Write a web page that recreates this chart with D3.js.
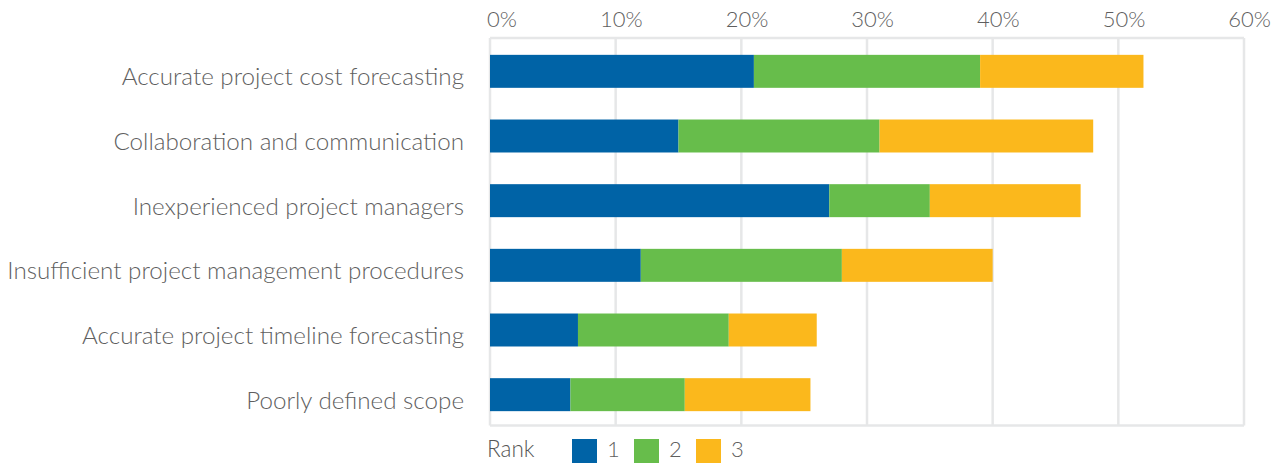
<!DOCTYPE html>
<html>
<head>
<meta charset="utf-8">
<script src="https://cdn.jsdelivr.net/npm/d3@7/dist/d3.min.js"></script>
<style>
  html, body { margin: 0; padding: 0; background: #fff; }
  svg { display: block; }
  text { font-family: Lato, "Open Sans", sans-serif; font-weight: 300; fill: #5f5f5f; }
</style>
</head>
<body>
<svg id="chart" width="1282" height="466"></svg>
<script>
// Share of respondents ranking each challenge 1st, 2nd or 3rd (%)
const categories = [
  "Accurate project cost forecasting",
  "Collaboration and communication",
  "Inexperienced project managers",
  "Insufficient project management procedures",
  "Accurate project timeline forecasting",
  "Poorly defined scope"
];
const rank1 = [21, 15, 27, 12, 7, 6.4];
const rank2 = [18, 16, 8, 16, 12, 9.1];
const rank3 = [13, 17, 12, 12, 7, 10];
const rankNames = ["1", "2", "3"];
const rankColors = ["#0063a6", "#67bd4b", "#fbb81c"];
const tickValues = [0, 10, 20, 30, 40, 50, 60];

const svg = d3.select("#chart");
const plotLeft = 490, plotRight = 1244, plotTop = 38, plotBottom = 425.5;

const x = d3.scaleLinear().domain([0, 60]).range([plotLeft, plotRight]);
const y = d3.scaleBand().domain(categories).range([39, 427]).paddingInner(0.49).paddingOuter(0.245);

// grid lines and frame
const grid = svg.append("g");
grid.selectAll("line.v").data(tickValues).join("line")
  .attr("x1", d => x(d)).attr("x2", d => x(d))
  .attr("y1", plotTop).attr("y2", plotBottom)
  .attr("stroke", "#e6e7e8").attr("stroke-width", 2.5);
grid.selectAll("line.h").data([plotTop, plotBottom]).join("line")
  .attr("x1", plotLeft).attr("x2", plotRight)
  .attr("y1", d => d).attr("y2", d => d)
  .attr("stroke", "#e6e7e8").attr("stroke-width", 2.5);

// top axis tick labels
svg.append("g").selectAll("text").data(tickValues).join("text")
  .attr("x", d => x(d) + 27).attr("y", 26.5)
  .attr("text-anchor", "end")
  .style("font-size", "22px")
  .text(d => d + "%");

// stacked bars
const rows = categories.map((c, i) => ({ cat: c, v: [rank1[i], rank2[i], rank3[i]] }));
const stack = d3.stack().keys([0, 1, 2]).value((d, k) => d.v[k]);
const series = stack(rows);

svg.append("g").selectAll("g").data(series).join("g")
  .attr("fill", (s, i) => rankColors[i])
  .selectAll("rect").data(s => s).join("rect")
  .attr("x", d => x(d[0]))
  .attr("width", d => x(d[1]) - x(d[0]))
  .attr("y", d => y(d.data.cat))
  .attr("height", y.bandwidth());

// category labels
svg.append("g").selectAll("text").data(categories).join("text")
  .attr("x", 464)
  .attr("y", d => y(d) + y.bandwidth() / 2 + 14)
  .attr("text-anchor", "end")
  .style("font-size", "24.2px")
  .text(d => d);

// legend
const legend = svg.append("g");
legend.append("text").attr("x", 487).attr("y", 457)
  .style("font-size", "22.5px").style("fill", "#555").text("Rank");
const items = legend.selectAll("g.item").data(rankNames).join("g")
  .attr("transform", (d, i) => `translate(${572 + i * 62},0)`);
items.append("rect").attr("x", 0).attr("y", 439).attr("width", 25).attr("height", 24)
  .attr("fill", (d, i) => rankColors[i]);
items.append("text").attr("x", 35).attr("y", 457)
  .style("font-size", "22px").text(d => d);
</script>
</body>
</html>
